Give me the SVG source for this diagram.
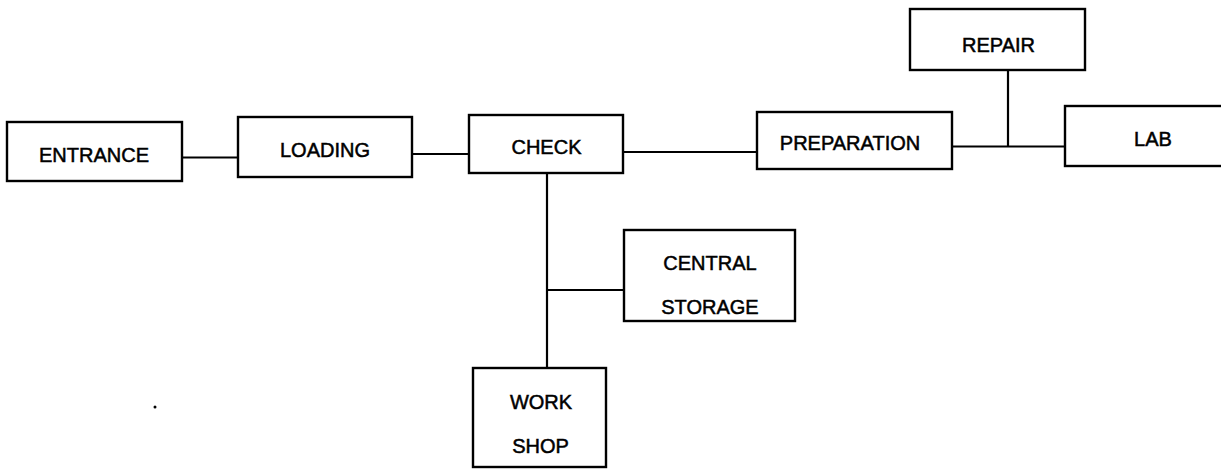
<svg xmlns="http://www.w3.org/2000/svg" width="1221" height="469" viewBox="0 0 1221 469">
<style>
.box{fill:#fff;stroke:#000;stroke-width:2.4}
.lbl{font-family:"Liberation Sans",Arial,sans-serif;font-size:20px;fill:#000;stroke:#000;stroke-width:0.5;text-anchor:middle}
.con{stroke:#000;stroke-width:2.2;fill:none}
</style>
<rect width="1221" height="469" fill="#fff"/>
<g id="connectors">
<line class="con" x1="182" y1="157.5" x2="238" y2="157.5"/>
<line class="con" x1="412" y1="154" x2="469" y2="154"/>
<line class="con" x1="623" y1="152" x2="757" y2="152"/>
<line class="con" x1="952" y1="146.5" x2="1065" y2="146.5"/>
<line class="con" x1="1008" y1="70" x2="1008" y2="146.5"/>
<line class="con" x1="547" y1="173" x2="547" y2="368"/>
<line class="con" x1="547" y1="290" x2="624" y2="290"/>
</g>
<g id="entrance"><rect class="box" x="7" y="122" width="175" height="59"/><text class="lbl" x="94" y="162">ENTRANCE</text></g>
<g id="loading"><rect class="box" x="238" y="117" width="174" height="60"/><text class="lbl" x="325" y="157">LOADING</text></g>
<g id="check"><rect class="box" x="469" y="115" width="154" height="58"/><text class="lbl" x="546.5" y="154">CHECK</text></g>
<g id="preparation"><rect class="box" x="757" y="112" width="195" height="57"/><text class="lbl" x="850" y="150">PREPARATION</text></g>
<g id="repair"><rect class="box" x="910" y="9" width="175" height="61"/><text class="lbl" x="998.5" y="52">REPAIR</text></g>
<g id="lab"><rect class="box" x="1065" y="106" width="170" height="60"/><text class="lbl" x="1153" y="146">LAB</text></g>
<g id="central-storage"><rect class="box" x="624" y="230" width="171" height="91"/><text class="lbl" x="710" y="270">CENTRAL</text><text class="lbl" x="710" y="314">STORAGE</text></g>
<g id="workshop"><rect class="box" x="473" y="368" width="133" height="99"/><text class="lbl" x="541" y="409">WORK</text><text class="lbl" x="540.5" y="453">SHOP</text></g>
<circle cx="155" cy="407" r="1.5" fill="#000"/>
</svg>
